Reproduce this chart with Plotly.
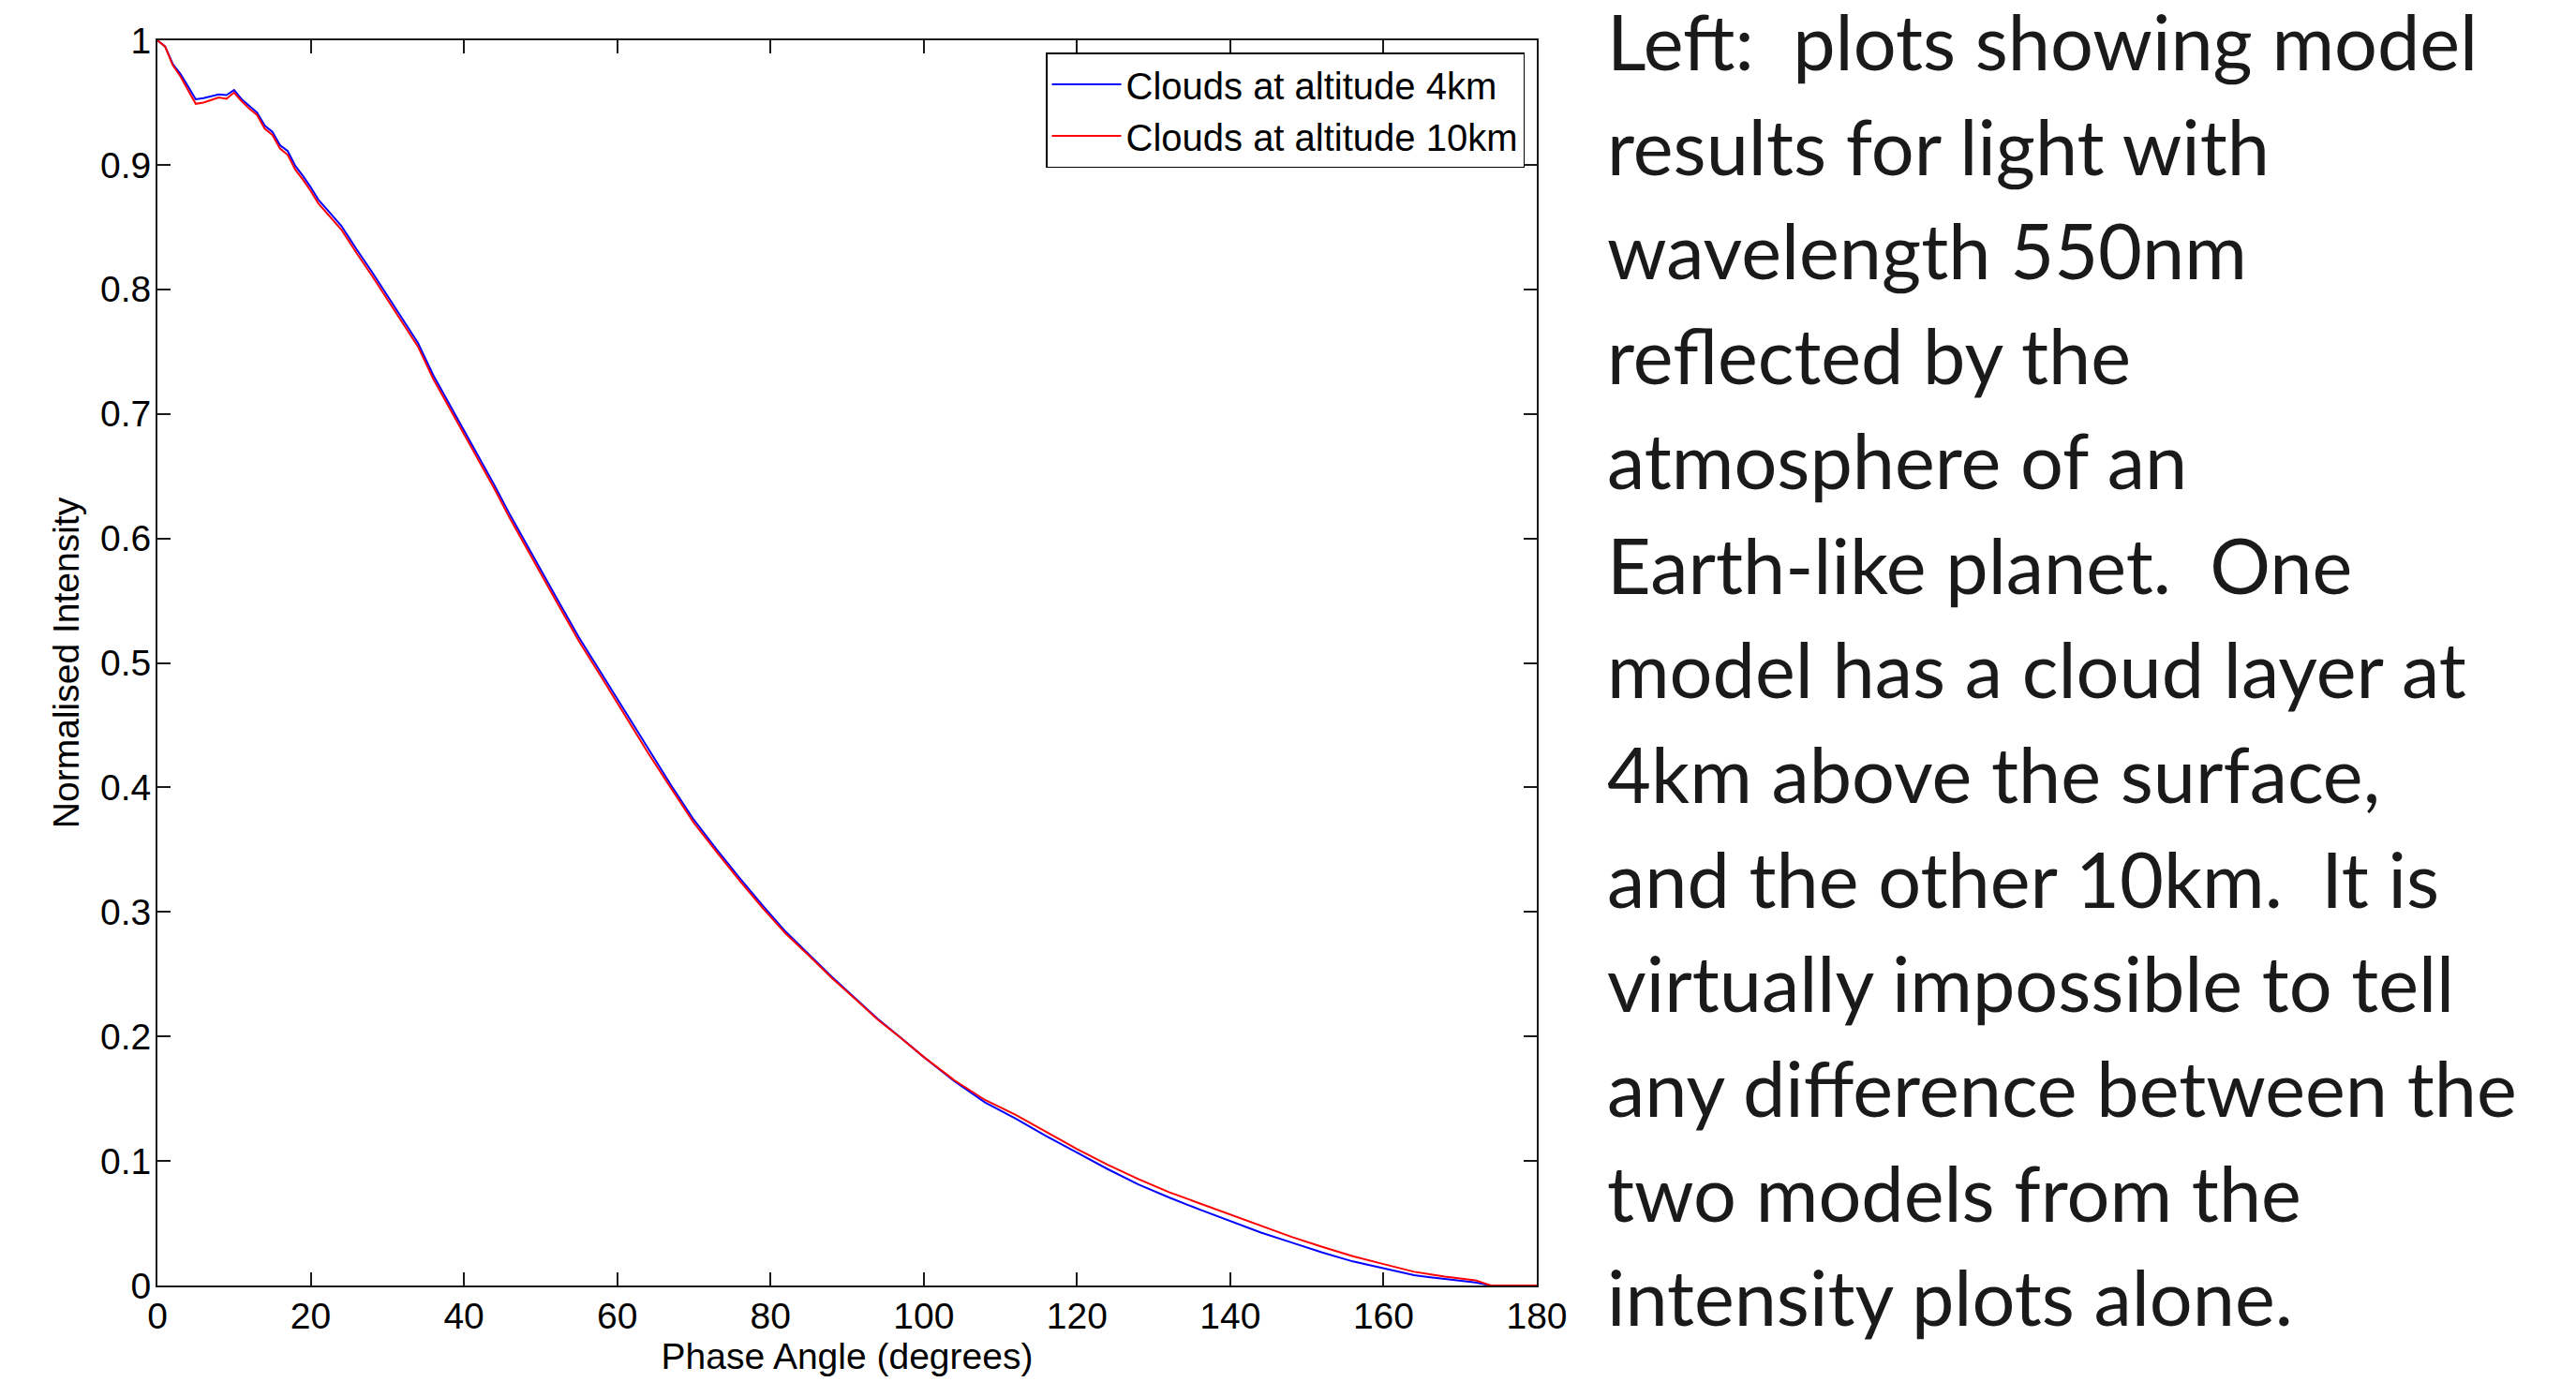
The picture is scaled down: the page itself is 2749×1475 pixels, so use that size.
import plotly.graph_objects as go

# ---------------- data ----------------
phase_angle = [0, 1, 2, 3, 4, 5, 6, 7, 8, 9, 10, 11, 12, 13, 14, 15, 16, 17, 18, 19,
               20, 21, 22, 24, 26, 28, 30, 32, 34, 36, 38, 40, 42, 44, 46, 48, 50, 52,
               55, 58, 61, 64, 67, 70, 73, 76, 79, 82, 85, 88, 91, 94, 97, 100, 104,
               108, 112, 116, 120, 124, 128, 132, 136, 140, 144, 148, 152, 156, 160,
               164, 168, 172, 174, 176, 178, 180]

intensity_4km = [1.000, 0.995, 0.981, 0.973, 0.963, 0.9526, 0.9535, 0.955, 0.9566, 0.956,
                 0.960, 0.9526, 0.947, 0.942, 0.9315, 0.9265, 0.9157, 0.911, 0.899, 0.891,
                 0.882, 0.872, 0.865, 0.851, 0.832, 0.814, 0.795, 0.776, 0.757, 0.731,
                 0.709, 0.687, 0.665, 0.6425, 0.619, 0.5965, 0.575, 0.553, 0.5205, 0.491,
                 0.461, 0.431, 0.402, 0.374, 0.350, 0.327, 0.305, 0.284, 0.266, 0.248,
                 0.231, 0.214, 0.199, 0.1835, 0.164, 0.147, 0.134, 0.120, 0.1067, 0.0935,
                 0.0812, 0.0707, 0.061, 0.0515, 0.0425, 0.0345, 0.0265, 0.0193, 0.0135,
                 0.0082, 0.0052, 0.0025, 0.0, 0.0, 0.0, 0.0]

intensity_10km = [1.000, 0.995, 0.980, 0.971, 0.960, 0.949, 0.950, 0.952, 0.954, 0.953,
                  0.958, 0.951, 0.945, 0.940, 0.929, 0.924, 0.913, 0.908, 0.896, 0.888,
                  0.879, 0.869, 0.862, 0.848, 0.829, 0.811, 0.792, 0.773, 0.754, 0.728,
                  0.706, 0.684, 0.662, 0.6395, 0.616, 0.5935, 0.572, 0.550, 0.5175, 0.488,
                  0.458, 0.428, 0.3995, 0.3715, 0.348, 0.325, 0.303, 0.2825, 0.265, 0.247,
                  0.2305, 0.2135, 0.1988, 0.1835, 0.1648, 0.149, 0.137, 0.123, 0.1095, 0.097,
                  0.0855, 0.075, 0.066, 0.0565, 0.048, 0.039, 0.031, 0.0235, 0.0172,
                  0.011, 0.0072, 0.0042, 0.0, 0.0, 0.0, 0.0]

series_names = ["Clouds at altitude 4km", "Clouds at altitude 10km"]
x_ticks = [0, 20, 40, 60, 80, 100, 120, 140, 160, 180]
y_ticks = [0, 0.1, 0.2, 0.3, 0.4, 0.5, 0.6, 0.7, 0.8, 0.9, 1]
y_tick_labels = ["0", "0.1", "0.2", "0.3", "0.4", "0.5", "0.6", "0.7", "0.8", "0.9", "1"]

side_text = [
    "Left:  plots showing model",
    "results for light with",
    "wavelength 550nm",
    "reflected by the",
    "atmosphere of an",
    "Earth-like planet.  One",
    "model has a cloud layer at",
    "4km above the surface,",
    "and the other 10km.  It is",
    "virtually impossible to tell",
    "any difference between the",
    "two models from the",
    "intensity plots alone.",
]

# ---------------- layout geometry ----------------
W, H = 2749, 1475
L, R, T, B = 168, 1640, 43, 1372
pw, ph = R - L, B - T

AX_FONT = "Liberation Sans, Arial, sans-serif"
AX = "#1a1a1a"

fig = go.Figure()
fig.add_trace(go.Scatter(x=phase_angle, y=intensity_4km, mode="lines",
                         name=series_names[0], line=dict(color="#0000ff", width=2)))
fig.add_trace(go.Scatter(x=phase_angle, y=intensity_10km, mode="lines",
                         name=series_names[1], line=dict(color="#ff0000", width=2)))

fig.update_layout(
    width=W, height=H,
    margin=dict(l=L, r=W - R, t=T, b=H - B, autoexpand=False),
    plot_bgcolor="white", paper_bgcolor="white",
    font=dict(family=AX_FONT, size=39, color="black"),
    showlegend=True,
    legend=dict(
        x=(1627 - L) / pw, xanchor="right",
        y=1 - (56 - T) / ph, yanchor="top",
        bgcolor="white", bordercolor="black", borderwidth=1.5,
        font=dict(family=AX_FONT, size=40, color="black"),
        itemwidth=74, tracegroupgap=0,
    ),
    xaxis=dict(
        range=[0, 180], tickmode="array", tickvals=x_ticks,
        ticktext=[str(v) for v in x_ticks],
        ticks="inside", ticklen=14, tickwidth=1.5, tickcolor=AX,
        showline=True, linewidth=2, linecolor=AX, mirror="ticks",
        showgrid=False, zeroline=False, ticklabelstandoff=-3,
        tickfont=dict(family=AX_FONT, size=39, color="black"),
        title=dict(text="Phase Angle (degrees)", standoff=6,
                   font=dict(family=AX_FONT, size=39, color="black")),
    ),
    yaxis=dict(
        range=[0, 1], tickmode="array", tickvals=y_ticks, ticktext=y_tick_labels,
        ticks="inside", ticklen=14, tickwidth=1.5, tickcolor=AX,
        showline=True, linewidth=2, linecolor=AX, mirror="ticks",
        showgrid=False, zeroline=False, ticklabelstandoff=-3,
        tickfont=dict(family=AX_FONT, size=39, color="black"),
        title=dict(text="Normalised Intensity", standoff=10,
                   font=dict(family=AX_FONT, size=39, color="black")),
    ),
)

# ---------------- side text ----------------
TXT_FONT = "Lato, sans-serif"
fs = 81
x0 = 1713
for i, line in enumerate(side_text):
    cy = 43.5 + 111.7 * i
    fig.add_annotation(
        text=line, xref="paper", yref="paper",
        x=(x0 - L) / pw, y=(B - cy) / ph,
        xanchor="left", yanchor="middle", showarrow=False,
        font=dict(family=TXT_FONT, size=fs, color="#1a1a1a"),
    )

fig.write_html(
    "out.html",
    config={"displayModeBar": False},
    post_script="document.body.style.margin='0';document.body.style.padding='0';",
)
